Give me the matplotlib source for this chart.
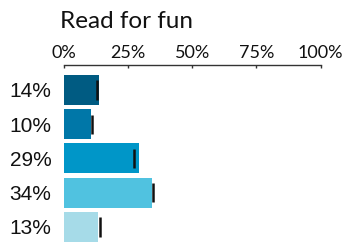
import matplotlib
matplotlib.use("Agg")
import matplotlib.pyplot as plt

# data
labels = ["14%", "10%", "29%", "34%", "13%"]
values = [13.6, 10.5, 29.2, 34.2, 13.3]
markers = [12.8, 10.9, 27.4, 34.7, 14.0]
colors = ["#005b82", "#0077a8", "#0096c8", "#50c2e0", "#a6dbe8"]
ticks = [0, 25, 50, 75, 100]
tick_labels = ["0%", "25%", "50%", "75%", "100%"]

fig = plt.figure(figsize=(3.47, 2.42), dpi=100)
ax = fig.add_axes([64 / 347, 0, 256.5 / 347, 177 / 242])

ypos = list(range(len(values)))
ax.barh(ypos, values, height=0.876, color=colors)
ax.vlines(markers, [y - 0.28 for y in ypos], [y + 0.28 for y in ypos],
          color="#111111", linewidth=1.8)

ax.set_xlim(0, 100)
ax.set_ylim(4.44, -0.73)

ax.xaxis.set_ticks_position("top")
ax.set_xticks(ticks)
ax.set_xticklabels(tick_labels, fontfamily="Lato", fontsize=13, color="#111111")
ax.tick_params(axis="x", direction="in", length=2.5, width=1, color="#333333", pad=3)

ax.set_yticks(ypos)
ax.set_yticklabels(labels, fontfamily="Liberation Sans", fontsize=15, color="#111111")
ax.tick_params(axis="y", length=0, pad=9)

for s in ["right", "bottom", "left"]:
    ax.spines[s].set_visible(False)
ax.spines["top"].set_color("#333333")
ax.spines["top"].set_linewidth(1)

fig.text(60 / 347, 1 - 28 / 242, "Read for fun", fontfamily="Lato", fontsize=17.5,
         color="#111111", ha="left", va="baseline")

fig.savefig("out.png", dpi=100)
